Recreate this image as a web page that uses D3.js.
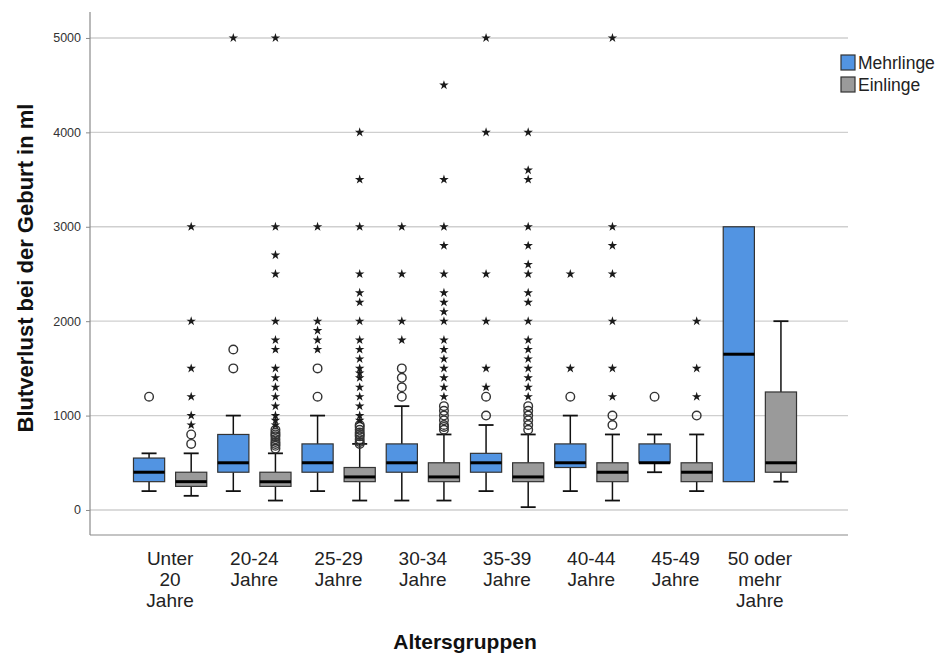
<!DOCTYPE html>
<html>
<head>
<meta charset="utf-8">
<script src="https://cdn.jsdelivr.net/npm/d3@7"></script>
<style>
  html, body { margin: 0; padding: 0; background: #fff; }
  svg { display: block; }
</style>
</head>
<body>
<svg id="chart" width="938" height="655"></svg>
<script>
// Age groups (each label split into its display lines)
const categories = ["Unter 20 Jahre", "20-24 Jahre", "25-29 Jahre", "30-34 Jahre",
                    "35-39 Jahre", "40-44 Jahre", "45-49 Jahre", "50 oder mehr Jahre"];
const categoryLines = [["Unter", "20", "Jahre"], ["20-24", "Jahre"], ["25-29", "Jahre"],
                       ["30-34", "Jahre"], ["35-39", "Jahre"], ["40-44", "Jahre"],
                       ["45-49", "Jahre"], ["50 oder", "mehr", "Jahre"]];
const seriesNames = ["Mehrlinge", "Einlinge"];
const yTicks = [0, 1000, 2000, 3000, 4000, 5000];

// Box statistics per group: [lower whisker, Q1, median, Q3, upper whisker]
const mehrStats = [
  [200, 300, 400, 550, 600],
  [200, 400, 500, 800, 1000],
  [200, 400, 500, 700, 1000],
  [100, 400, 500, 700, 1100],
  [200, 400, 500, 600, 900],
  [200, 450, 500, 700, 1000],
  [400, 500, 500, 700, 800],
  [300, 300, 1650, 3000, 3000]
];
const einStats = [
  [150, 250, 300, 400, 600],
  [100, 250, 300, 400, 600],
  [100, 300, 350, 450, 700],
  [100, 300, 350, 500, 800],
  [30, 300, 350, 500, 800],
  [100, 300, 400, 500, 800],
  [200, 300, 400, 500, 800],
  [300, 400, 500, 1250, 2000]
];

// Outliers (circles) and extreme values (stars)
const mehrCircles = [[1200], [1500, 1700], [1200, 1500], [1200, 1300, 1400, 1500],
                     [1000, 1200], [1200], [1200], []];
const mehrStars = [[], [5000], [1700, 1800, 1900, 2000, 3000], [1800, 2000, 2500, 3000],
                   [1300, 1500, 2000, 2500, 4000, 5000], [1500, 2500], [], []];
const einCircles = [[700, 800],
                    [650, 680, 700, 720, 750, 780, 800, 820, 850],
                    [700, 720, 750, 780, 800, 820, 850, 880, 900],
                    [850, 880, 900, 950, 1000, 1050, 1100],
                    [850, 900, 950, 1000, 1050, 1100],
                    [900, 1000], [1000], []];
const einStars = [[900, 1000, 1200, 1500, 2000, 3000],
                  [900, 950, 1000, 1100, 1200, 1300, 1400, 1500, 1700, 1800, 2000, 2500, 2700, 3000, 5000],
                  [950, 1000, 1100, 1200, 1300, 1400, 1450, 1500, 1600, 1700, 1800, 2000, 2200, 2300, 2500, 3000, 3500, 4000],
                  [1200, 1300, 1400, 1500, 1600, 1700, 1800, 2000, 2100, 2200, 2300, 2500, 2800, 3000, 3500, 4500],
                  [1200, 1300, 1400, 1500, 1600, 1700, 1800, 2000, 2200, 2300, 2500, 2600, 2800, 3000, 3500, 3600, 4000],
                  [1200, 1500, 2000, 2500, 2800, 3000, 5000],
                  [1200, 1500, 2000], []];

const colors = { "Mehrlinge": "#5294e2", "Einlinge": "#9a9a9a" };
const FONT = "'Liberation Sans', Arial, sans-serif";

const series = [
  { name: "Mehrlinge", stats: mehrStats, circles: mehrCircles, stars: mehrStars },
  { name: "Einlinge", stats: einStats, circles: einCircles, stars: einStars }
];

const svg = d3.select("#chart");
const plot = { left: 90, right: 848, top: 12, bottom: 535 };

const x0 = d3.scaleBand().domain(categories).range([128, 802]).padding(0);
const x1 = d3.scaleBand().domain(seriesNames).range([0, x0.bandwidth()])
  .paddingInner(0.26).paddingOuter(0.13);
const y = d3.scaleLinear().domain([-265, 5275]).range([plot.bottom, plot.top]);

// Gridlines
svg.append("g")
  .selectAll("line").data(yTicks).join("line")
  .attr("x1", plot.left).attr("x2", plot.right)
  .attr("y1", d => y(d)).attr("y2", d => y(d))
  .attr("stroke", "#cfcfcf").attr("stroke-width", 1.4);

// Y axis
const yAxis = d3.axisLeft(y).tickValues(yTicks).tickSize(4).tickPadding(5).tickFormat(d3.format("d"));
const gy = svg.append("g").attr("transform", `translate(${plot.left},0)`).call(yAxis);
gy.select(".domain").remove();
gy.selectAll(".tick line").attr("stroke", "#8a8a8a");
gy.selectAll(".tick text").attr("font-family", FONT)
  .attr("font-size", 12.5).attr("fill", "#333");
svg.append("line").attr("x1", plot.left).attr("x2", plot.left)
  .attr("y1", plot.top).attr("y2", plot.bottom).attr("stroke", "#8a8a8a").attr("stroke-width", 1.2);
svg.append("line").attr("x1", plot.left).attr("x2", plot.right)
  .attr("y1", plot.bottom).attr("y2", plot.bottom).attr("stroke", "#8a8a8a").attr("stroke-width", 1.2);

// Boxes, whiskers and outliers
const star = d3.symbol().type(d3.symbolStar).size(28);
series.forEach(s => {
  const g = svg.append("g");
  categories.forEach((c, i) => {
    const [lo, q1, med, q3, hi] = s.stats[i];
    const bx = x0(c) + x1(s.name);
    const bw = x1.bandwidth();
    const cx = bx + bw / 2;
    const cap = 15;
    if (hi > q3) {
      g.append("line").attr("x1", cx).attr("x2", cx).attr("y1", y(q3)).attr("y2", y(hi))
        .attr("stroke", "#111").attr("stroke-width", 1.5);
      g.append("line").attr("x1", cx - cap / 2).attr("x2", cx + cap / 2).attr("y1", y(hi)).attr("y2", y(hi))
        .attr("stroke", "#111").attr("stroke-width", 1.8);
    }
    if (lo < q1) {
      g.append("line").attr("x1", cx).attr("x2", cx).attr("y1", y(q1)).attr("y2", y(lo))
        .attr("stroke", "#111").attr("stroke-width", 1.5);
      g.append("line").attr("x1", cx - cap / 2).attr("x2", cx + cap / 2).attr("y1", y(lo)).attr("y2", y(lo))
        .attr("stroke", "#111").attr("stroke-width", 1.8);
    }
    g.append("rect").attr("x", bx).attr("y", y(q3)).attr("width", bw).attr("height", y(q1) - y(q3))
      .attr("fill", colors[s.name]).attr("stroke", "#333").attr("stroke-width", 1.2);
    g.append("line").attr("x1", bx).attr("x2", bx + bw).attr("y1", y(med)).attr("y2", y(med))
      .attr("stroke", "#000").attr("stroke-width", 3);
    s.circles[i].forEach(v => {
      g.append("circle").attr("cx", cx).attr("cy", y(v)).attr("r", 4.3)
        .attr("fill", "none").attr("stroke", "#333").attr("stroke-width", 1.4);
    });
    s.stars[i].forEach(v => {
      g.append("path").attr("d", star).attr("transform", `translate(${cx},${y(v)})`)
        .attr("fill", "#1a1a1a");
    });
  });
});

// Category labels
const xl = svg.append("g").attr("font-family", FONT)
  .attr("font-size", 19).attr("fill", "#222").attr("text-anchor", "middle");
categories.forEach((c, i) => {
  const cx = x0(c) + x0.bandwidth() / 2;
  const t = xl.append("text").attr("x", cx).attr("y", 565);
  categoryLines[i].forEach((line, k) => {
    t.append("tspan").attr("x", cx).attr("dy", k === 0 ? 0 : 21).text(line);
  });
});

// Axis titles
svg.append("text").attr("x", 465).attr("y", 649)
  .attr("text-anchor", "middle").attr("font-family", FONT)
  .attr("font-weight", "bold").attr("font-size", 21).attr("fill", "#111").text("Altersgruppen");
svg.append("text").attr("transform", "translate(33,268) rotate(-90)")
  .attr("text-anchor", "middle").attr("font-family", FONT)
  .attr("font-weight", "bold").attr("font-size", 22).attr("fill", "#111").text("Blutverlust bei der Geburt in ml");

// Legend
const leg = svg.append("g").attr("transform", "translate(841,55)");
seriesNames.forEach((n, i) => {
  leg.append("rect").attr("x", 0).attr("y", i * 22).attr("width", 14).attr("height", 15)
    .attr("fill", colors[n]).attr("stroke", "#333").attr("stroke-width", 1.2);
  leg.append("text").attr("x", 17).attr("y", i * 22 + 14)
    .attr("font-family", FONT).attr("font-size", 17.5)
    .attr("fill", "#222").text(n);
});
</script>
</body>
</html>
